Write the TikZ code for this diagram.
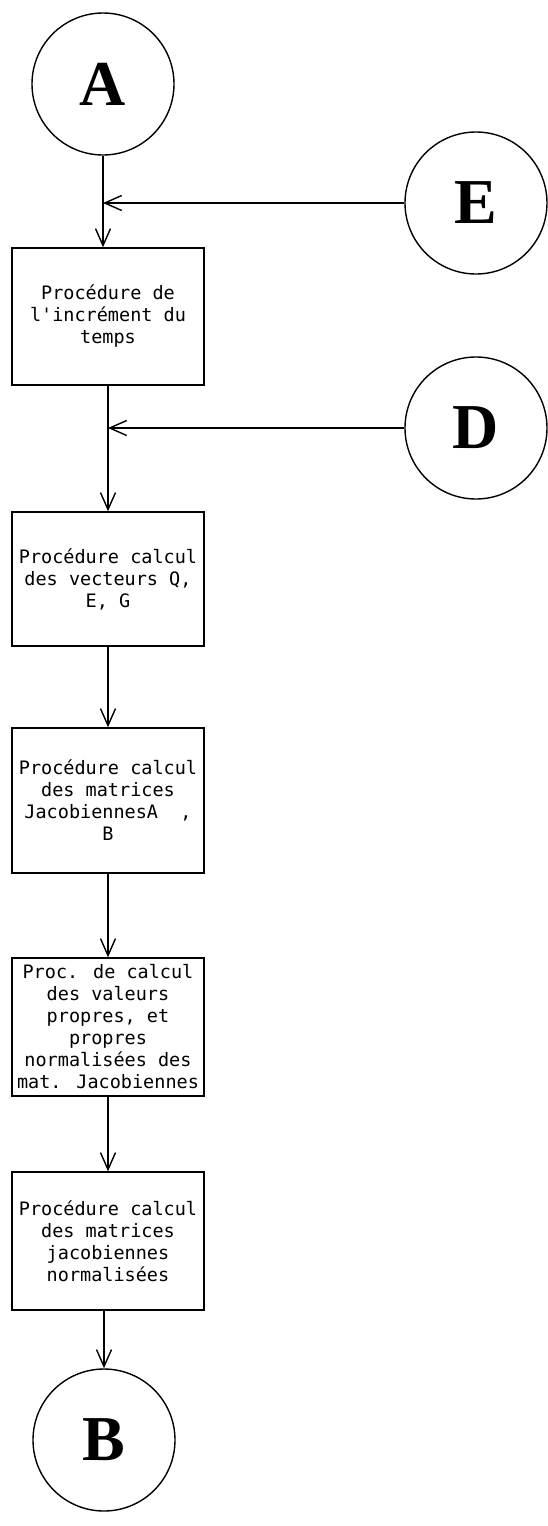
\documentclass[tikz,border=0pt]{standalone}
\usepackage{fontspec}
\newfontfamily\boxfont{DejaVu Sans Mono}
\newfontfamily\letterfont{Liberation Serif}
\usetikzlibrary{arrows.meta}
\begin{document}
\begin{tikzpicture}[x=1pt,y=-1pt,line width=1.4pt,
  conn/.style={-{Straight Barb[length=17pt,width=15pt]}},
  link/.style={circle,draw,minimum size=142pt,inner sep=0pt,
    font=\letterfont\bfseries\fontsize{64}{64}\selectfont},
  procbox/.style={draw,minimum width=192pt,align=center,inner sep=0pt,
    font=\boxfont\fontsize{18.5}{22}\selectfont}]
\useasboundingbox (0,0) rectangle (547,1526);

% connector circles
\node[link] (A) at (103,84) {A};
\node[link] (E) at (476,203) {E};
\node[link] (D) at (476,428) {D};
\node[link] (B) at (104,1440) {B};

% procedure boxes
\node[procbox,minimum height=137pt] (p1) at (108,316.5)
  {Procédure de\\l'incrément du\\temps};
\node[procbox,minimum height=134pt] (p2) at (108,579)
  {Procédure calcul\\des vecteurs Q,\\E, G};
\node[procbox,minimum height=145pt] (p3) at (108,800.5)
  {Procédure calcul\\des matrices\\JacobiennesA\ \ ,\\B};
\node[procbox,minimum height=138pt] (p4) at (108,1027)
  {Proc. de calcul\\des valeurs\\propres, et\\propres\\normalisées des\\mat. Jacobiennes};
\node[procbox,minimum height=138pt] (p5) at (108,1241)
  {Procédure calcul\\des matrices\\jacobiennes\\normalisées};

% flow
\draw[conn] (A.south) -- (A.south |- p1.north);
\coordinate (jE) at (A.south |- E.west);
\draw[conn] (E.west) -- (jE);
\draw[conn] (p1.south) -- (p2.north);
\coordinate (jD) at (p1.south |- D.west);
\draw[conn] (D.west) -- (jD);
\draw[conn] (p2.south) -- (p3.north);
\draw[conn] (p3.south) -- (p4.north);
\draw[conn] (p4.south) -- (p5.north);
\draw[conn] (B.north |- p5.south) -- (B.north);
\end{tikzpicture}
\end{document}
